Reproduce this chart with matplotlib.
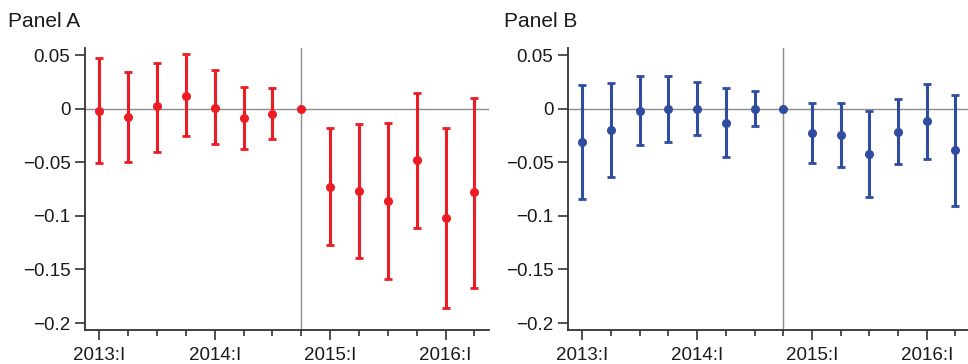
import numpy as np
import matplotlib
matplotlib.use("Agg")
import matplotlib.pyplot as plt
from matplotlib.ticker import FixedLocator, FuncFormatter

plt.rcParams["font.family"] = ["Liberation Sans", "DejaVu Sans"]

# quarters 2013:I .. 2016:II
quarters = ["2013:I", "2013:II", "2013:III", "2013:IV",
            "2014:I", "2014:II", "2014:III", "2014:IV",
            "2015:I", "2015:II", "2015:III", "2015:IV",
            "2016:I", "2016:II"]
tick_labels = ["2013:I", "2014:I", "2015:I", "2016:I"]

# Panel A: point estimate and interval bounds
a_est = [-0.002, -0.008, 0.002, 0.012, 0.001, -0.009, -0.005, 0.0,
         -0.073, -0.077, -0.086, -0.048, -0.102, -0.078]
a_hi = [0.047, 0.034, 0.043, 0.051, 0.036, 0.020, 0.019, 0.0,
        -0.018, -0.014, -0.013, 0.015, -0.018, 0.010]
a_lo = [-0.051, -0.050, -0.040, -0.026, -0.033, -0.038, -0.028, 0.0,
        -0.127, -0.139, -0.159, -0.111, -0.186, -0.167]

# Panel B
b_est = [-0.031, -0.020, -0.002, 0.0, 0.0, -0.013, 0.0, 0.0,
         -0.023, -0.025, -0.042, -0.022, -0.012, -0.039]
b_hi = [0.022, 0.024, 0.030, 0.030, 0.025, 0.019, 0.016, 0.0,
        0.005, 0.005, -0.002, 0.009, 0.023, 0.013]
b_lo = [-0.084, -0.064, -0.034, -0.031, -0.025, -0.045, -0.016, 0.0,
        -0.051, -0.054, -0.082, -0.052, -0.047, -0.091]

RED = "#ec1c24"
BLUE = "#2f4c9f"
SPINE = "#333333"
REF = "#8c8c8c"

fig = plt.figure(figsize=(9.68, 3.64), dpi=100)
fig.patch.set_facecolor("white")

x = np.arange(len(quarters))


def minus(v, pos):
    if abs(v) < 1e-9:
        return "0"
    s = f"{v:g}"
    return s.replace("-", "\u2212")


def draw_panel(rect, est, lo, hi, color, title, title_x):
    ax = fig.add_axes(rect)
    est = np.array(est)
    err = np.vstack([est - np.array(lo), np.array(hi) - est])
    ax.axhline(0, color=REF, lw=1.0, zorder=1)
    ax.axvline(quarters.index("2014:IV"), color=REF, lw=1.0, zorder=1)
    ax.errorbar(x, est, yerr=err, fmt="o", color=color, ms=5.5,
                elinewidth=2.2, capsize=3.2, capthick=2.0, zorder=3)
    ax.set_xlim(-0.5, 13.5)
    ax.set_ylim(-0.2065, 0.0565)
    ax.set_yticks([0.05, 0, -0.05, -0.1, -0.15, -0.2])
    ax.yaxis.set_major_formatter(FuncFormatter(minus))
    ax.xaxis.set_major_locator(FixedLocator([quarters.index(t) for t in tick_labels]))
    ax.set_xticklabels(tick_labels)
    ax.xaxis.set_minor_locator(FixedLocator([i for i in x if quarters[i] not in tick_labels]))
    for s in ["top", "right"]:
        ax.spines[s].set_visible(False)
    for s in ["left", "bottom"]:
        ax.spines[s].set_color(SPINE)
        ax.spines[s].set_linewidth(1.3)
    ax.tick_params(axis="both", which="major", direction="out", length=7,
                   width=1.2, color=SPINE, labelsize=13.5, labelcolor="#1a1a1a")
    ax.tick_params(axis="x", which="minor", direction="out", length=4,
                   width=1.2, color=SPINE)
    ax.tick_params(axis="x", which="major", pad=5)
    fig.text(title_x, 1 - 27 / 364, title, fontsize=15, color="#1a1a1a",
             ha="left", va="baseline")
    return ax


draw_panel([0.0878, 0.0934, 0.4172, 0.7746], a_est, a_lo, a_hi, RED,
           "Panel A", 8 / 968)
draw_panel([0.5868, 0.0934, 0.4150, 0.7746], b_est, b_lo, b_hi, BLUE,
           "Panel B", 504 / 968)

plt.savefig("out.png", dpi=100, facecolor="white")
